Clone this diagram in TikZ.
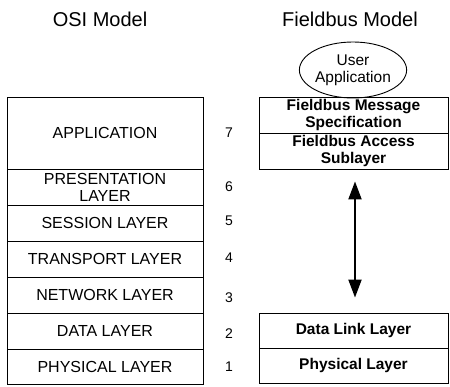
\documentclass[tikz,border=0pt]{standalone}
\usepackage{fontspec}
\setmainfont{Liberation Sans}
\usetikzlibrary{arrows.meta,shapes.geometric}
\tikzset{
  osibox/.style={draw=black, line width=0.9pt, minimum width=196pt, inner sep=0pt, align=center,
    font=\fontsize{16}{17}\selectfont},
  fbbox/.style={draw=black, line width=0.9pt, minimum width=189pt, inner sep=0pt, align=center,
    font=\bfseries\fontsize{15.5}{17}\selectfont},
  title/.style={font=\fontsize{20}{22}\selectfont},
  num/.style={font=\fontsize{14}{15}\selectfont},
  dbl/.style={line width=2pt, {Triangle[length=18pt,width=13pt]}-{Triangle[length=18pt,width=13pt]}}
}
\begin{document}
\begin{tikzpicture}[x=1pt,y=-1pt]
\useasboundingbox (0,0) rectangle (450,387);
% titles
\node[title] (t1) at (100,19) {OSI Model};
\node[title] (t2) at (350,19) {Fieldbus Model};
% OSI layers
\node[osibox, minimum height=72pt] (app) at (105,133) {APPLICATION};
\node[osibox, minimum height=36pt] (pre) at (105,187) {PRESENTATION\\LAYER};
\node[osibox, minimum height=36pt] (ses) at (105,223) {SESSION LAYER};
\node[osibox, minimum height=36pt] (tra) at (105,259) {TRANSPORT LAYER};
\node[osibox, minimum height=36pt] (net) at (105,295) {NETWORK LAYER};
\node[osibox, minimum height=36pt] (dat) at (105,331) {DATA LAYER};
\node[osibox, minimum height=35pt] (phy) at (105,366.5) {PHYSICAL LAYER};
% numbers
\node[num] (n7) at (229,133) {7};
\node[num] (n6) at (229,187) {6};
\node[num] (n5) at (229,221) {5};
\node[num] (n4) at (229,258) {4};
\node[num] (n3) at (229,298) {3};
\node[num] (n2) at (229,334) {2};
\node[num] (n1) at (229,367) {1};
% Fieldbus
\node[draw=black, line width=0.9pt, ellipse, minimum width=104pt, minimum height=56pt, inner sep=0pt,
  align=center, font=\fontsize{15.5}{17}\selectfont] (ua) at (353,70) {User\\Application};
\node[fbbox, minimum height=36pt] (fms) at (353.5,115) {Fieldbus Message\\Specification};
\node[fbbox, minimum height=36pt] (fas) at (353.5,151) {Fieldbus Access\\Sublayer};
\node[fbbox, minimum height=35pt] (dll) at (353.5,330.5) {Data Link Layer};
\node[fbbox, minimum height=35pt] (fph) at (353.5,365.5) {Physical Layer};
% arrow
\draw[dbl, shorten <=12pt, shorten >=15pt] ([xshift=1.5pt]fas.south) -- ([xshift=1.5pt]dll.north);
\end{tikzpicture}
\end{document}
